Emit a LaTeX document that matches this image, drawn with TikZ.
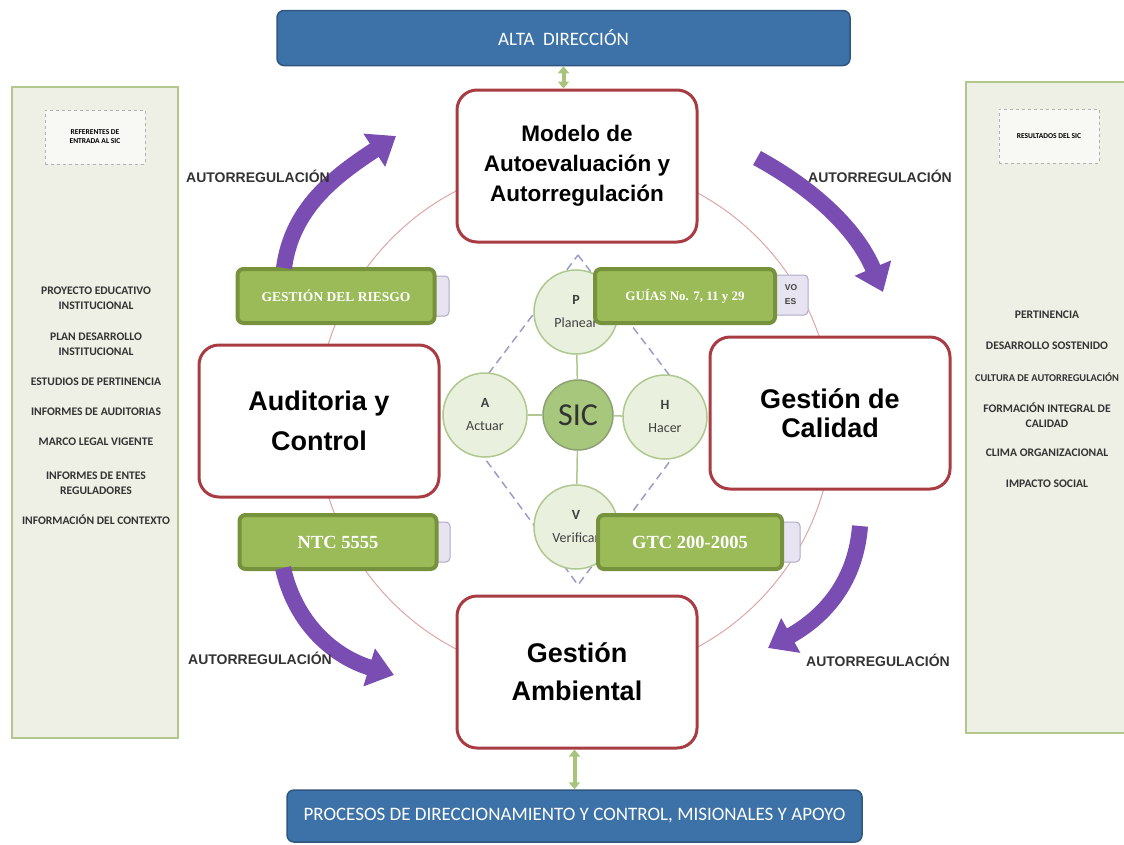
\documentclass[tikz,border=0pt]{standalone}
\usepackage{fontspec}
\setmainfont{Liberation Sans}
\newfontfamily\calib{Carlito}
\newfontfamily\tnr{Liberation Serif}
\usetikzlibrary{arrows.meta}

\definecolor{barblue}{HTML}{3D72A8}
\definecolor{boxred}{HTML}{A83C42}
\definecolor{ringpink}{HTML}{DDA6A8}
\definecolor{panelfill}{HTML}{EEF0E5}
\definecolor{panelline}{HTML}{B3C78C}
\definecolor{gbox}{HTML}{9BBB59}
\definecolor{gboxline}{HTML}{76923C}
\definecolor{circfill}{HTML}{E9F0DD}
\definecolor{circline}{HTML}{AFC88F}
\definecolor{sicfill}{HTML}{A7C77D}
\definecolor{autopurple}{HTML}{7A4DB2}
\definecolor{tabfill}{HTML}{E7E3F0}
\definecolor{tabline}{HTML}{B1A9C8}
\definecolor{dblgreen}{HTML}{A8C47C}

\tikzset{
  bar/.style={draw=barblue!75!black, fill=barblue, rounded corners=7pt, line width=1.5pt,
    text=white, font=\calib\fontsize{19}{22}\selectfont},
  mainbox/.style={draw=boxred, fill=white, rounded corners=20pt, line width=3pt,
    minimum width=240pt, minimum height=152pt, align=center, font=\bfseries},
  panel/.style={draw=panelline, fill=panelfill, line width=2pt},
  tag/.style={draw=gray!60, dashed, fill=white!60!panelfill, minimum width=100pt,
    minimum height=54pt, align=center, font=\calib\bfseries\fontsize{7.5}{9}\selectfont},
  item/.style={align=center, text=black!80, font=\calib\bfseries\fontsize{11.6}{14.5}\selectfont},
  phva/.style={circle, draw=circline, fill=circfill, line width=1.5pt, minimum size=84pt,
    inner sep=0pt, align=center, text=black!75, font=\calib\fontsize{14}{23}\selectfont},
  spoke/.style={draw=circline, line width=1.5pt},
  greenbox/.style={draw=gboxline, fill=gbox, rounded corners=6pt, line width=4pt,
    minimum height=54pt, text=white, font=\tnr\bfseries},
  tab/.style={draw=tabline, fill=tabfill, rounded corners=4pt, line width=1pt,
    minimum height=40pt},
  autoarrow/.style={draw=autopurple, line width=16pt, line cap=butt,
    -{Triangle[length=26pt,width=38pt]}},
  autolabel/.style={text=black!80, font=\bfseries\fontsize{14}{16}\selectfont},
  updown/.style={draw=dblgreen, line width=4pt,
    {Triangle[length=7pt,width=11pt]}-{Triangle[length=7pt,width=11pt]}}
}

\begin{document}
\begin{tikzpicture}[x=1pt, y=-1pt]
\useasboundingbox (0,0) rectangle (1124,844);

% side panels
\draw[panel] (12,87) rectangle (178,738);
\draw[panel] (966,82) rectangle (1134,733);
\node[tag] (refs) at (95,137) {REFERENTES DE\\ENTRADA AL SIC};
\node[tag] (results) at (1049,136) {RESULTADOS DEL SIC};

\foreach \t/\y [count=\i] in {{PROYECTO EDUCATIVO\\INSTITUCIONAL}/298, {PLAN DESARROLLO\\INSTITUCIONAL}/344,
  {ESTUDIOS DE PERTINENCIA}/382, {INFORMES DE AUDITORIAS}/412, {MARCO LEGAL VIGENTE}/442,
  {INFORMES DE ENTES\\REGULADORES}/483, {INFORMACIÓN DEL CONTEXTO}/520}
  \node[item] (in\i) at (96,\y) {\t};

\foreach \t/\y [count=\i] in {{PERTINENCIA}/315, {DESARROLLO SOSTENIDO}/346,
  {\fontsize{10.4}{13}\selectfont CULTURA DE AUTORREGULACIÓN}/377, {FORMACIÓN INTEGRAL DE\\CALIDAD}/415,
  {CLIMA ORGANIZACIONAL}/453, {IMPACTO SOCIAL}/484}
  \node[item] (out\i) at (1047,\y) {\t};

% top and bottom bars
\node[bar, minimum width=573pt, minimum height=55pt] (alta) at (563.5,38) {ALTA\ \ DIRECCIÓN};
\node[bar, minimum width=575pt, minimum height=52pt]
  (procesos) at (574.5,816) {PROCESOS DE DIRECCIONAMIENTO Y CONTROL, MISIONALES Y APOYO};

% ring and PHVA diamond
\coordinate (c) at (575,420);
\draw[ringpink, line width=1pt] (c) circle[radius=258];
\draw[gray!70!blue!60, line width=1.5pt, dash pattern=on 8pt off 5pt]
  (578,255) -- (702,418) -- (578,585) -- (455,418) -- cycle;

% main boxes
\node[mainbox, font=\bfseries\fontsize{22.5}{30}\selectfont] (modelo) at (577,166)
  {Modelo de\\Autoevaluación y\\Autorregulación};
\node[mainbox, font=\bfseries\fontsize{27}{40}\selectfont] (auditoria) at (319,421) {Auditoria y\\Control};
\node[mainbox, font=\bfseries\fontsize{27}{29}\selectfont] (calidad) at (830,413) {Gestión de\\Calidad};
\node[mainbox, font=\bfseries\fontsize{27}{38}\selectfont] (ambiental) at (577,672) {Gestión\\Ambiental};

\draw[updown] (alta.south) -- (alta.south |- modelo.north);
\draw[updown] (procesos.north) -- (procesos.north |- ambiental.south);

% PHVA
\node[phva, fill=sicfill, draw=circline!80!black, minimum size=70pt,
  font=\calib\fontsize{32}{34}\selectfont, text=black!80] (sic) at (578,415) {SIC};
\node[phva] (p) at (576,312) {\textbf{P}\\Planear};
\node[phva] (h) at (665,417) {\textbf{H}\\Hacer};
\node[phva] (v) at (576,527) {\textbf{V}\\Verificar};
\node[phva] (a) at (485,415) {\textbf{A}\\Actuar};
\foreach \n in {p,h,v,a} \draw[spoke] (sic) -- (\n);

% tabs behind the green boxes
\node[tab, minimum width=30pt] (tab1) at (434,296) {};
\node[tab, minimum width=48pt, align=left, font=\bfseries\fontsize{8.5}{14}\selectfont, text=black!75]
  (tab2) at (784,295) {\hspace*{14pt}VO\\\hspace*{14pt}ES};
\node[tab, minimum width=30pt] (tab3) at (435,542) {};
\node[tab, minimum width=30pt] (tab4) at (785,542) {};

% green boxes
\node[greenbox, minimum width=197pt, font=\tnr\bfseries\fontsize{13.5}{15}\selectfont] (riesgo) at (336,296) {GESTIÓN DEL RIESGO};
\node[greenbox, minimum width=180pt, font=\tnr\bfseries\fontsize{13}{15}\selectfont] (guias) at (685,296) {GUÍAS No. 7, 11 y 29};
\node[greenbox, minimum width=197pt, font=\tnr\bfseries\fontsize{18.5}{20}\selectfont] (ntc) at (338,542) {NTC 5555};
\node[greenbox, minimum width=184pt, font=\tnr\bfseries\fontsize{18.5}{20}\selectfont] (gtc) at (690,542) {GTC 200-2005};

% autorregulacion arrows
\draw[autoarrow] (284,268) .. controls (292,208) and (335,176) .. (396,136);
\draw[autoarrow] (757,158) .. controls (812,188) and (856,228) .. (883,292);
\draw[autoarrow] (283,568) .. controls (295,622) and (332,656) .. (394,675);
\draw[autoarrow] (860,526) .. controls (856,580) and (826,616) .. (768,648);

\node[autolabel] (auto1) at (258,176) {AUTORREGULACIÓN};
\node[autolabel] (auto2) at (880,176) {AUTORREGULACIÓN};
\node[autolabel] (auto3) at (260,658) {AUTORREGULACIÓN};
\node[autolabel] (auto4) at (878,660) {AUTORREGULACIÓN};
\end{tikzpicture}
\end{document}
